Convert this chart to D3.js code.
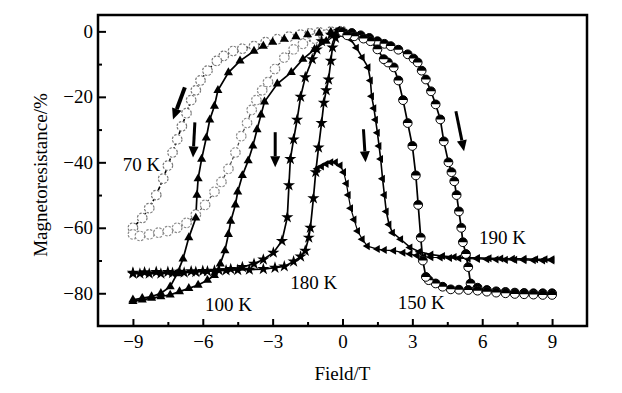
<!DOCTYPE html>
<html>
<head>
<meta charset="utf-8">
<script src="https://cdn.jsdelivr.net/npm/d3@7"></script>
<style>
  html, body { margin: 0; padding: 0; background: #fff; }
  svg { display: block; }
  text { font-family: "Liberation Serif", "Times New Roman", serif; fill: #000; }
</style>
</head>
<body>
<svg id="chart" width="622" height="393"></svg>
<script>
// ---------------- DATA ----------------
const xTicks = [-9, -6, -3, 0, 3, 6, 9];
const xMinorTicks = [-7.5, -4.5, -1.5, 1.5, 4.5, 7.5];
const yTicks = [0, -20, -40, -60, -80];
const yMinorTicks = [-10, -30, -50, -70];

// 70 K (open circles)
const k70Sweep = [[0,0],[-0.5,-0.1],[-1,-0.3],[-1.4,-0.6],[-1.8,-1],[-2.3,-1.6],[-2.8,-2.4],[-3.3,-3.3],[-3.8,-4.5],[-4.3,-5.3],[-4.7,-6],[-5.1,-7.5],[-5.4,-9],[-5.8,-12],[-6.1,-15],[-6.3,-18],[-6.5,-21],[-6.7,-25],[-6.9,-29],[-7.1,-33],[-7.3,-37],[-7.5,-41],[-7.7,-45],[-8.0,-50],[-8.3,-54],[-8.6,-57],[-9,-60]];
const k70Return = [[-9,-62],[-8.7,-62.5],[-8.3,-62],[-7.9,-61.5],[-7.5,-61],[-7.1,-60],[-6.7,-58.5],[-6.3,-56],[-5.9,-53],[-5.5,-49],[-5.2,-46],[-4.9,-42],[-4.6,-37],[-4.35,-32],[-4.1,-28],[-3.9,-24],[-3.7,-21],[-3.45,-18],[-3.2,-15.5],[-2.9,-11.5],[-2.5,-8],[-2.1,-5.5],[-1.7,-3.8],[-1.2,-2.2],[-0.7,-1],[-0.2,-0.3]];

// 100 K (filled triangles)
const k100Sweep = [[-0.5,-0.2],[-1,-0.5],[-1.5,-1],[-2,-1.6],[-2.5,-2.4],[-3,-3.3],[-3.4,-4.5],[-3.8,-6],[-4.4,-9],[-4.9,-12.6],[-5.35,-18],[-5.5,-22.8],[-5.7,-27],[-5.85,-32.5],[-6.05,-39],[-6.2,-45],[-6.25,-50],[-6.3,-57],[-6.6,-63],[-6.85,-69.5],[-7.1,-74],[-7.4,-78],[-7.8,-80],[-8.2,-81],[-8.6,-81.5],[-9,-82]];
const k100Return = [[-9,-82.5],[-8.6,-82],[-8.2,-81.5],[-7.8,-81],[-7.4,-80.5],[-7,-79.5],[-6.6,-78.5],[-6.2,-77.5],[-5.8,-76],[-5.5,-74.5],[-5.25,-71],[-5.05,-67],[-4.9,-62],[-4.8,-58],[-4.6,-53],[-4.5,-49],[-4.3,-44],[-4.05,-39.5],[-3.85,-35],[-3.67,-30],[-3.5,-25.5],[-3.35,-21.5],[-2.8,-16],[-2.2,-12.5],[-1.7,-8.5],[-1.2,-5.5],[-0.7,-3],[-0.3,-1]];

// 180 K (stars)
const k180Sweep = [[-0.5,-1],[-0.9,-3],[-1.1,-5.5],[-1.3,-8.5],[-1.6,-14],[-1.8,-20],[-1.95,-27],[-2.1,-33],[-2.24,-39],[-2.3,-47],[-2.37,-56.8],[-2.6,-64],[-2.97,-67.6],[-3.4,-69.7],[-3.8,-71],[-4.3,-72],[-4.8,-72.6],[-5.3,-73],[-5.8,-73.3],[-6.3,-73.5],[-6.8,-73.7],[-7.3,-73.8],[-7.8,-74],[-8.3,-74],[-8.7,-74],[-9,-74]];
const k180Return = [[-9,-73.7],[-8.5,-73.6],[-8,-73.5],[-7.5,-73.5],[-7,-73.4],[-6.5,-73.3],[-6,-73.2],[-5.5,-73.1],[-5,-73],[-4.5,-72.9],[-4,-72.8],[-3.4,-72.6],[-2.9,-72.2],[-2.5,-71.8],[-2.1,-70.3],[-1.8,-68.8],[-1.6,-67],[-1.45,-63],[-1.38,-60],[-1.25,-51],[-1.15,-43],[-1.03,-35.5],[-0.9,-28],[-0.8,-21.8],[-0.7,-18],[-0.6,-14.7],[-0.5,-9],[-0.43,-4.9],[-0.3,-2],[-0.1,-0.5]];

// 190 K (left-pointing triangles)
const k190Sweep = [[-0.2,0.5],[0.1,-0.5],[0.35,-2.4],[0.6,-5],[0.85,-8],[1.1,-11],[1.2,-15],[1.25,-19.8],[1.35,-23.5],[1.42,-27],[1.5,-31],[1.57,-35],[1.64,-39],[1.72,-45],[1.8,-50],[1.88,-55],[2.0,-59],[2.15,-61.5],[2.5,-63.5],[2.9,-66],[3.3,-67.3],[3.8,-68.2],[4.3,-68.6],[4.8,-68.9],[5.3,-69.1],[5.8,-69.2],[6.3,-69.3],[6.8,-69.4],[7.3,-69.5],[7.8,-69.5],[8.3,-69.6],[8.7,-69.6],[9.0,-69.6]];
const k190Return = [[9,-70],[8.6,-70],[8.2,-69.9],[7.8,-69.9],[7.4,-69.8],[7,-69.8],[6.6,-69.7],[6.2,-69.6],[5.8,-69.5],[5.4,-69.4],[5,-69.3],[4.6,-69.2],[4.2,-69.1],[3.8,-69],[3.5,-68.8],[3.2,-68.5],[2.9,-68],[2.6,-67.6],[2.2,-67],[1.8,-66.8],[1.5,-66.5],[1.07,-65.6],[0.85,-63.5],[0.65,-61],[0.5,-57.5],[0.35,-54],[0.25,-50],[0.17,-46.5],[0.05,-43],[-0.1,-41],[-0.3,-40],[-0.5,-40],[-0.7,-40.5],[-0.9,-41.3],[-1.08,-42]];

// 150 K (half-filled circles)
const k150Sweep = [[0,-0.2],[0.4,-0.5],[0.78,-1.2],[1.15,-2],[1.5,-3],[1.8,-3.8],[2.07,-4.5],[2.4,-5.6],[2.8,-7],[3.05,-8.3],[3.23,-9.5],[3.4,-12],[3.58,-14.7],[3.8,-18.3],[4.0,-22.3],[4.2,-26.9],[4.35,-33.6],[4.55,-40],[4.68,-43],[4.8,-45.8],[4.9,-50],[5.0,-55],[5.1,-60],[5.17,-64.4],[5.3,-68],[5.4,-72],[5.5,-77],[5.8,-78.3],[6.2,-79],[6.6,-79.4],[7,-79.6],[7.4,-79.8],[7.8,-79.9],[8.2,-80],[8.6,-80],[9,-80]];
const k150Return = [[9,-80.5],[8.6,-80.5],[8.2,-80.4],[7.8,-80.3],[7.4,-80.2],[7,-80],[6.6,-79.8],[6.2,-79.5],[5.8,-79.2],[5.4,-79],[5,-78.9],[4.65,-78.8],[4.3,-78],[4.0,-77],[3.7,-76],[3.58,-75],[3.45,-70],[3.36,-63],[3.25,-53],[3.15,-44],[3.0,-35],[2.8,-28],[2.6,-21],[2.4,-15],[2.2,-11],[1.95,-9.5],[1.77,-8.5],[1.5,-5.5],[1.2,-3],[0.9,-2.2],[0.5,-1.5],[0.2,-1.2]];

// sweep-direction arrows (field, MR): start -> end
const arrowStarts = [[-6.77,-17.1],[-6.34,-27.8],[-2.89,-30.8],[0.9,-29.9],[4.87,-24.4]];
const arrowEnds   = [[-7.28,-26.9],[-6.42,-38.5],[-2.89,-41.5],[0.99,-40.0],[5.22,-36.6]];

// temperature labels
const labelTexts = ["70 K", "100 K", "180 K", "150 K", "190 K"];
const labelPos = [[-9.44,-42.7],[-5.9,-85.5],[-2.24,-78.8],[2.37,-84.9],[5.86,-65]];

// ---------------- CHART ----------------
const svg = d3.select("#chart");
const L = 98, R = 587, T = 15, B = 326;
const x = d3.scaleLinear().domain([-10.5, 10.5]).range([L, R]);
const y = d3.scaleLinear().domain([5, -90]).range([T, B]);
const FS = 19;

svg.append("rect").attr("width", 622).attr("height", 393).attr("fill", "#fff");

const plot = svg.append("g");
const line = d3.line().x(d => x(d[0])).y(d => y(d[1]));

function drawLine(data, opts = {}) {
  plot.append("path").datum(data).attr("d", line)
    .attr("fill", "none").attr("stroke", opts.stroke || "#000")
    .attr("stroke-width", opts.width || 1.3)
    .attr("stroke-dasharray", opts.dash || null);
}

// lines
drawLine(k70Sweep, {width: 1.6, dash: "4,2"});
drawLine(k70Return, {width: 1.2, stroke: "#444", dash: "3,2"});
drawLine(k100Sweep, {width: 1.7});
drawLine(k100Return, {width: 1.7});
drawLine(k180Sweep, {width: 1.7});
drawLine(k180Return, {width: 1.7});
drawLine(k190Sweep, {width: 1.6});
drawLine(k190Return, {width: 1.2});
drawLine(k150Sweep, {width: 1.7});
drawLine(k150Return, {width: 1.7});

// markers
function circles(data, stroke) {
  plot.append("g").selectAll("circle").data(data).join("circle")
    .attr("cx", d => x(d[0])).attr("cy", d => y(d[1])).attr("r", 4.8)
    .attr("fill", "#fff").attr("stroke", stroke).attr("stroke-width", 1.2)
    .attr("stroke-dasharray", "2.4,1.4");
}
function symbols(data, type, size, rot) {
  plot.append("g").selectAll("path").data(data).join("path")
    .attr("d", d3.symbol(type, size))
    .attr("transform", d => `translate(${x(d[0])},${y(d[1])}) rotate(${rot || 0})`)
    .attr("fill", "#000");
}
function halfCircles(data) {
  const g = plot.append("g").selectAll("g").data(data).join("g")
    .attr("transform", d => `translate(${x(d[0])},${y(d[1])})`);
  const r = 4.4;
  g.append("circle").attr("r", r).attr("fill", "#fff").attr("stroke", "#000").attr("stroke-width", 1);
  g.append("path").attr("d", `M${-r},0 A${r},${r} 0 0 1 ${r},0 Z`).attr("fill", "#000");
}

circles(k70Sweep, "#777");
circles(k70Return, "#8a8a8a");
symbols(k100Sweep, d3.symbolTriangle, 36, 0);
symbols(k100Return, d3.symbolTriangle, 36, 0);
symbols(k180Sweep, d3.symbolStar, 46, 0);
symbols(k180Return, d3.symbolStar, 46, 0);
symbols(k190Sweep, d3.symbolTriangle, 28, -90);
symbols(k190Return, d3.symbolTriangle, 28, -90);
halfCircles(k150Sweep);
halfCircles(k150Return);

// arrows
arrowStarts.forEach((s, i) => {
  const e = arrowEnds[i];
  const x1 = x(s[0]), y1 = y(s[1]), x2 = x(e[0]), y2 = y(e[1]);
  const ang = Math.atan2(y2 - y1, x2 - x1);
  const hl = 11, hw = 5;
  const bx = x2 - hl * Math.cos(ang), by = y2 - hl * Math.sin(ang);
  plot.append("line").attr("x1", x1).attr("y1", y1).attr("x2", bx).attr("y2", by)
    .attr("stroke", "#000").attr("stroke-width", i === 0 ? 4 : 3);
  const px = -Math.sin(ang), py = Math.cos(ang);
  plot.append("path")
    .attr("d", `M${x2},${y2} L${bx + hw * px},${by + hw * py} L${bx - hw * px},${by - hw * py} Z`)
    .attr("fill", "#000");
});

// labels
svg.append("g").selectAll("text").data(labelTexts).join("text")
  .attr("x", (d, i) => x(labelPos[i][0])).attr("y", (d, i) => y(labelPos[i][1]))
  .attr("font-size", FS).text(d => d);

// axes
const xAxis = svg.append("g").attr("transform", `translate(0,${B})`)
  .call(d3.axisBottom(x).tickValues(xTicks).tickSize(-7).tickPadding(8.5).tickFormat(d3.format("d")));
const xMinor = svg.append("g").attr("transform", `translate(0,${B})`)
  .call(d3.axisBottom(x).tickValues(xMinorTicks).tickSize(-4).tickFormat(""));
const yAxis = svg.append("g").attr("transform", `translate(${L},0)`)
  .call(d3.axisLeft(y).tickValues(yTicks).tickSize(-8).tickPadding(5).tickFormat(d3.format("d")));
const yMinor = svg.append("g").attr("transform", `translate(${L},0)`)
  .call(d3.axisLeft(y).tickValues(yMinorTicks).tickSize(-4).tickFormat(""));

[xAxis, xMinor, yAxis, yMinor].forEach(a => {
  a.select(".domain").remove();
  a.selectAll("line").attr("stroke", "#000").attr("stroke-width", 2);
  a.selectAll("text").attr("font-size", FS).attr("font-family", "Liberation Serif, Times New Roman, serif").attr("fill", "#000");
});

// frame
svg.append("rect").attr("x", L).attr("y", T).attr("width", R - L).attr("height", B - T)
  .attr("fill", "none").attr("stroke", "#000").attr("stroke-width", 2.5);

// axis titles
svg.append("text").attr("x", (L + R) / 2).attr("y", 380).attr("text-anchor", "middle")
  .attr("font-size", FS).text("Field/T");
svg.append("text").attr("transform", `translate(47,175) rotate(-90)`).attr("text-anchor", "middle")
  .attr("font-size", FS).text("Magnetoresistance/%");
</script>
</body>
</html>
